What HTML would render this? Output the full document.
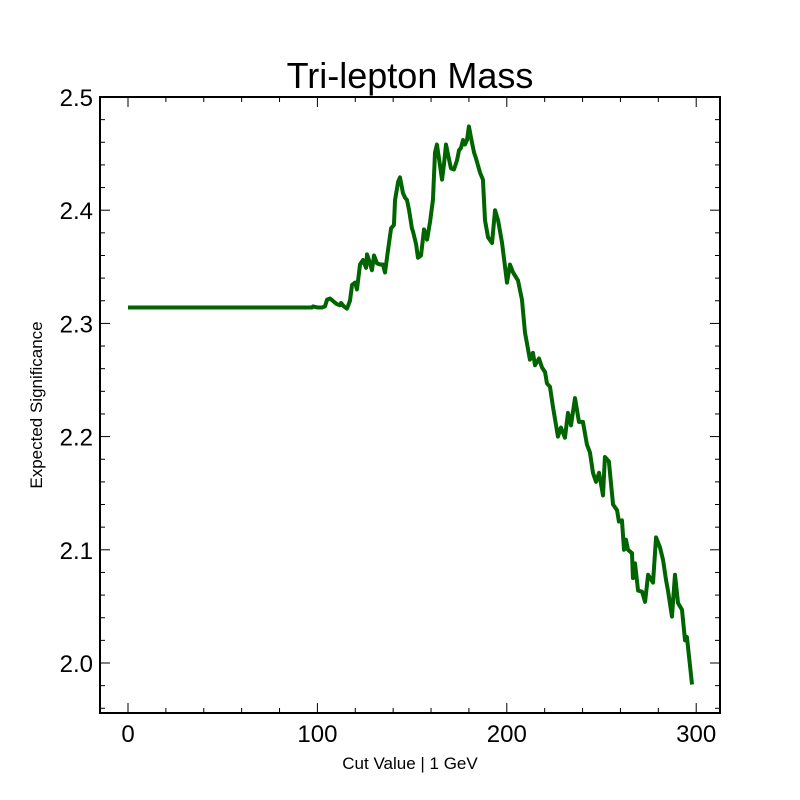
<!DOCTYPE html>
<html><head><meta charset="utf-8"><style>body{margin:0;background:#fff}svg{display:block;font-family:"Liberation Sans",sans-serif}</style></head>
<body>
<svg id="chart" width="800" height="800" viewBox="0 0 800 800"></svg>
<script>
const xs=[0,97.1,97.7,100.3,102.4,104.0,105.1,106.7,108.8,110.3,111.9,112.5,114.0,115.6,117.2,118.3,119.9,120.9,122.5,124.1,125.7,126.2,127.2,128.8,129.9,131.5,133.1,134.6,135.7,137.3,138.9,140.4,141.0,142.6,143.6,145.2,146.3,147.3,148.4,149.9,150.5,152.1,153.1,154.7,156.3,157.9,159.5,161.0,162.1,163.1,164.7,165.8,166.8,167.9,169.0,170.5,172.1,173.7,174.8,175.8,176.9,177.9,179.0,180.0,181.1,182.7,183.7,185.9,187.4,188.5,190.1,192.2,193.8,195.4,197.5,200.1,201.7,203.3,205.9,208.0,209.6,212.2,213.8,214.9,217.0,218.6,220.2,221.2,222.8,224.4,227.0,228.6,230.7,232.3,233.9,236.0,238.1,240.2,242.3,243.9,245.5,247.1,248.7,250.8,251.8,253.9,256.1,258.2,259.2,260.8,261.9,262.9,264.0,266.1,266.6,267.7,269.3,271.4,273.0,274.6,277.2,278.8,280.9,282.5,284.1,285.1,287.2,288.8,290.4,292.5,294.1,295.1,297.8];
const ys=[2.314,2.314,2.315,2.314,2.314,2.315,2.321,2.322,2.319,2.317,2.316,2.318,2.315,2.313,2.320,2.334,2.336,2.330,2.352,2.356,2.349,2.361,2.356,2.347,2.360,2.353,2.352,2.352,2.345,2.365,2.384,2.387,2.409,2.425,2.429,2.415,2.411,2.409,2.400,2.384,2.381,2.370,2.358,2.360,2.383,2.374,2.390,2.409,2.451,2.458,2.440,2.427,2.440,2.458,2.449,2.437,2.436,2.444,2.453,2.455,2.462,2.458,2.462,2.474,2.464,2.451,2.446,2.433,2.427,2.391,2.376,2.371,2.400,2.391,2.371,2.336,2.352,2.345,2.338,2.321,2.292,2.268,2.274,2.263,2.269,2.261,2.257,2.247,2.244,2.226,2.200,2.208,2.199,2.221,2.210,2.234,2.213,2.213,2.193,2.186,2.168,2.160,2.168,2.148,2.182,2.178,2.140,2.135,2.125,2.126,2.100,2.109,2.100,2.097,2.075,2.088,2.064,2.063,2.054,2.078,2.071,2.111,2.102,2.091,2.073,2.064,2.041,2.078,2.053,2.047,2.020,2.023,1.981];
const xTicks=[0,100,200,300];
const yTicks=[2.0,2.1,2.2,2.3,2.4,2.5];
const L=100,R=720,T=97,B=713;
const X=v=>128+v*1.894;
const Y=v=>97+(2.5-v)*1132;
const svg=document.getElementById('chart');
const NS='http://www.w3.org/2000/svg';
function mk(t,a){const e=document.createElementNS(NS,t);for(const k in a)e.setAttribute(k,a[k]);svg.appendChild(e);return e;}
// ticks
for(let v=-20;v<=320;v+=20){const px=X(v);if(px<L||px>R)continue;const len=(v%100===0)?10:5;
 let t=mk('line',{x1:px,x2:px,y1:B,y2:B-len,stroke:'#000','stroke-width':1});
 
 t=mk('line',{x1:px,x2:px,y1:T,y2:T+len,stroke:'#000','stroke-width':1});
 }
for(let i=0;i<=30;i++){const v=1.94+i*0.02;const px=Y(v);if(px<T-0.5||px>B)continue;const major=Math.abs(Math.round(v*10)-v*10)<1e-6;const len=major?10:5;
 let t=mk('line',{x1:L,x2:L+len,y1:px,y2:px,stroke:'#000','stroke-width':1});
 
 t=mk('line',{x1:R,x2:R-len,y1:px,y2:px,stroke:'#000','stroke-width':1});
 }
xTicks.forEach(v=>{const t=mk('text',{x:X(v),y:742,'text-anchor':'middle','font-size':24});t.textContent=v;
 });
yTicks.forEach(v=>{const t=mk('text',{x:93,y:Y(v)+9,'text-anchor':'end','font-size':24});t.textContent=v.toFixed(1);
 });
const line=mk('polyline',{points:xs.map((x,i)=>X(x)+','+Y(ys[i])).join(' '),fill:'none',stroke:'#006400','stroke-width':4,'stroke-linejoin':'round'});

const fr=mk('rect',{x:L,y:T,width:R-L,height:B-T,fill:'none',stroke:'#000','stroke-width':2});

let t=mk('text',{x:410,y:88,'text-anchor':'middle','font-size':36});t.textContent='Tri-lepton Mass';

t=mk('text',{x:410,y:769,'text-anchor':'middle','font-size':17});t.textContent='Cut Value | 1 GeV';

t=mk('text',{x:42,y:405,'text-anchor':'middle','font-size':17,transform:'rotate(-90 42 405)'});t.textContent='Expected Significance';

</script>
</body></html>
